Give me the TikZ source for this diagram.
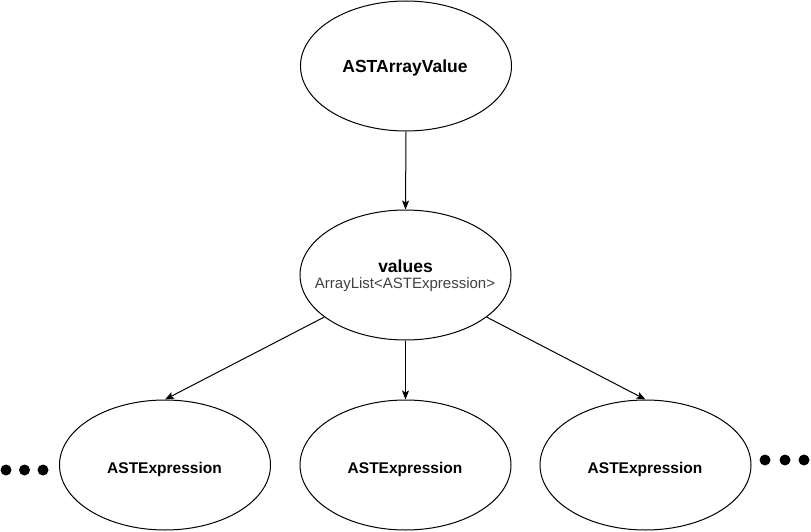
\documentclass[tikz,border=0pt]{standalone}
\usepackage{fontspec}
\setmainfont{Liberation Sans}
\usetikzlibrary{shapes.geometric,arrows.meta}
\tikzset{
  oval/.style={draw=black, line width=1pt, ellipse, minimum width=211pt, minimum height=130pt, inner sep=0pt},
  big/.style={font=\bfseries\fontsize{17.5}{20}\selectfont, inner sep=0pt, anchor=base},
  mid/.style={font=\bfseries\fontsize{15.5}{18}\selectfont, inner sep=0pt, anchor=base},
  small/.style={font=\fontsize{15}{18}\selectfont, text=black!75, inner sep=0pt, anchor=base},
  conn/.style={draw=black, line width=1pt, -{Stealth[length=9pt,width=7pt,inset=2pt]}},
  dot/.style={circle, fill=black, minimum size=11pt, inner sep=0pt}
}
\begin{document}
\begin{tikzpicture}[x=1pt,y=-1pt]
\useasboundingbox (0,0) rectangle (811,532);
\node[oval] (root) at (406,66) {};
\node[oval] (vals) at (405.5,275) {};
\node[oval] (e1) at (165,465) {};
\node[oval] (e2) at (405.5,465) {};
\node[oval] (e3) at (645.5,465) {};
\node[big] (troot) at (405,72.7) {ASTArrayValue};
\node[big] (tvals) at (405.5,272) {values};
\node[small] (tvals2) at (405,288) {ArrayList<ASTExpression>};
\node[mid] (t1) at (164.5,473) {ASTExpression};
\node[mid] (t2) at (405,473) {ASTExpression};
\node[mid] (t3) at (645,473) {ASTExpression};
\node[dot] (l1) at (6,470) {};
\node[dot] (l2) at (24.5,470) {};
\node[dot] (l3) at (43,470) {};
\node[dot] (r1) at (765,460) {};
\node[dot] (r2) at (785,460) {};
\node[dot] (r3) at (804,460) {};
\draw[conn] (root.south) -- (vals.north);
\draw[conn] (vals.south) -- (e2.north);
\draw[conn] (vals) -- (e1.north);
\draw[conn] (vals) -- (e3.north);
\end{tikzpicture}
\end{document}
